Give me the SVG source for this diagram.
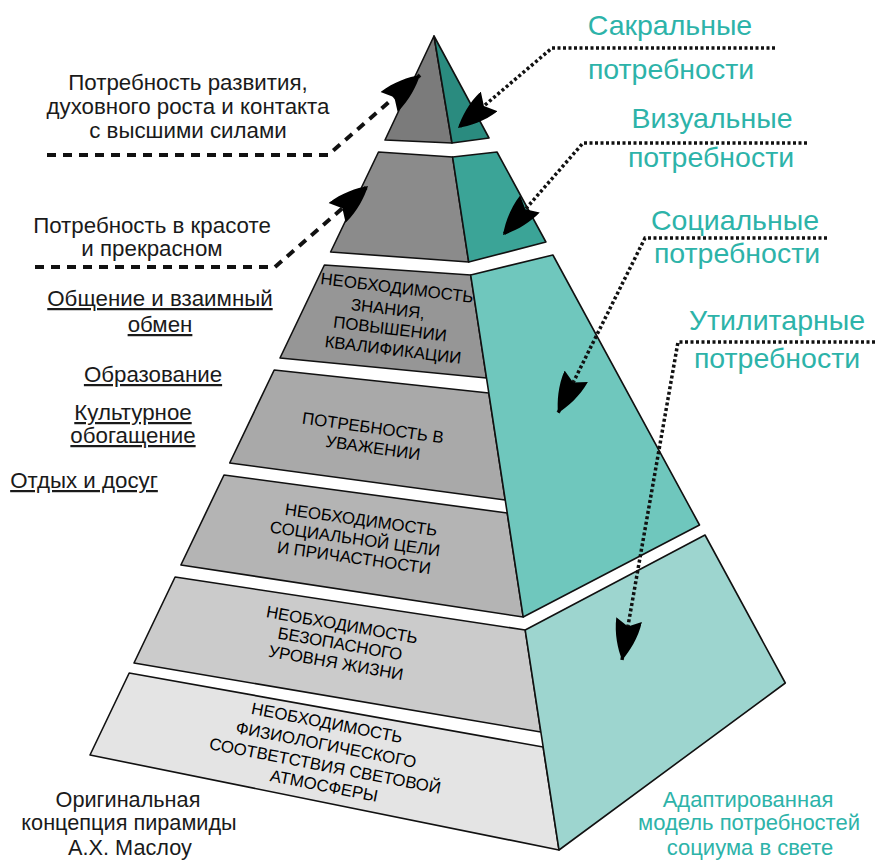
<svg xmlns="http://www.w3.org/2000/svg" width="876" height="860" viewBox="0 0 876 860">
<defs>
<style>
.face{stroke:#111;stroke-width:1.6;stroke-linejoin:round}
.lbl{font-family:"Liberation Sans",Arial,sans-serif;font-size:22.3px;fill:#1a1a1a;text-anchor:middle}
.lbl2{font-family:"Liberation Sans",Arial,sans-serif;font-size:21.7px;fill:#1a1a1a;text-anchor:middle}
.ul{text-decoration:underline}
.teal{font-family:"Liberation Sans",Arial,sans-serif;font-size:28.5px;fill:#2db3a9;text-anchor:middle}
.tealsm{font-family:"Liberation Sans",Arial,sans-serif;font-size:22px;fill:#2db3a9;text-anchor:middle}
.pt{font-family:"Liberation Sans",Arial,sans-serif;font-size:16.8px;fill:#000;text-anchor:middle;dominant-baseline:central}
.dash{fill:none;stroke:#111;stroke-width:4;stroke-dasharray:9 7}
.dot{fill:none;stroke:#111;stroke-width:3.5;stroke-dasharray:3 2.5}
</style>
<marker id="dart" markerUnits="userSpaceOnUse" viewBox="0 0 42 26" markerWidth="42" markerHeight="26" refX="42" refY="13" orient="auto">
<path d="M42,13 C32,7 18,1 1,0 L8,13 L1,26 C18,25 32,19 42,13 Z" fill="#000"/>
</marker>
</defs>
<rect width="876" height="860" fill="#fff"/>

<g id="layer1">
<polygon class="face" fill="#7b7b7b" points="434,36 385,140 452,143"/>
<polygon class="face" fill="#2a8b7f" points="434,36 452,143 489,138"/>
</g>
<g id="layer2">
<polygon class="face" fill="#8b8b8b" points="378.5,152 452.6,157 468.7,262 330.6,252"/>
<polygon class="face" fill="#3ba497" points="452.6,157 497,152 545.9,242 468.7,262"/>
</g>
<g id="layer3">
<polygon class="face" fill="#969696" points="324.4,265 470.7,275 486.5,378 280,358"/>
<text class="pt" x="397" y="288" transform="rotate(7 397 288)">НЕОБХОДИМОСТЬ</text>
<text class="pt" x="388" y="309" transform="rotate(7 388 309)">ЗНАНИЯ,</text>
<text class="pt" x="390" y="329" transform="rotate(7 390 329)">ПОВЫШЕНИИ</text>
<text class="pt" x="393" y="350" transform="rotate(7 393 350)">КВАЛИФИКАЦИИ</text>
</g>
<g id="layer4">
<polygon class="face" fill="#a9a9a9" points="274.2,370 488.8,393 505.2,500 229.7,463"/>
<text class="pt" x="373" y="428" transform="rotate(8 373 428)">ПОТРЕБНОСТЬ В</text>
<text class="pt" x="373" y="448" transform="rotate(8 373 448)">УВАЖЕНИИ</text>
</g>
<g id="layer5">
<polygon class="face" fill="#b4b4b4" points="224,475 507.2,513 523.2,617 180.9,565"/>
<text class="pt" x="361" y="520" transform="rotate(8 361 520)">НЕОБХОДИМОСТЬ</text>
<text class="pt" x="355" y="539" transform="rotate(8 355 539)">СОЦИАЛЬНОЙ ЦЕЛИ</text>
<text class="pt" x="354" y="558" transform="rotate(8 354 558)">И ПРИЧАСТНОСТИ</text>
</g>
<g id="layer6">
<polygon class="face" fill="#cbcbcb" points="175.1,577 525.2,630 540.8,732 134,663"/>
<text class="pt" x="342" y="625" transform="rotate(10 342 625)">НЕОБХОДИМОСТЬ</text>
<text class="pt" x="340" y="644" transform="rotate(10 340 644)">БЕЗОПАСНОГО</text>
<text class="pt" x="336" y="663" transform="rotate(10 336 663)">УРОВНЯ ЖИЗНИ</text>
</g>
<g id="layer7">
<polygon class="face" fill="#e4e4e4" points="129.2,673 543.1,747 559,850 90,755"/>
<text class="pt" x="327" y="723" transform="rotate(11 327 723)">НЕОБХОДИМОСТЬ</text>
<text class="pt" x="326" y="745" transform="rotate(11 326 745)">ФИЗИОЛОГИЧЕСКОГО</text>
<text class="pt" x="325" y="766" transform="rotate(11 325 766)">СООТВЕТСТВИЯ СВЕТОВОЙ</text>
<text class="pt" x="324" y="786" transform="rotate(11 324 786)">АТМОСФЕРЫ</text>
</g>
<g id="teal-upper">
<polygon class="face" fill="#6fc7bd" points="470.7,275 552.9,255 699.5,525 523.2,617"/>
</g>
<g id="teal-lower">
<polygon class="face" fill="#9dd5cf" points="525.2,630 705,535 785.3,683 559,850"/>
</g>

<g id="connectors">
<path class="dash" d="M47,155 H328 L420,75" marker-end="url(#dart)"/>
<path class="dash" d="M35,267 H275 L368,186" marker-end="url(#dart)"/>
<path class="dot" d="M775,48 H552 L458,128" marker-end="url(#dart)"/>
<path class="dot" d="M807,143 H583 L503,235" marker-end="url(#dart)"/>
<path class="dot" d="M827,238 H645 L558,413" marker-end="url(#dart)"/>
<path class="dot" d="M875,342 H678 L622,660" marker-end="url(#dart)"/>
</g>

<g id="label-spiritual">
<text class="lbl" x="188" y="90">Потребность развития,</text>
<text class="lbl" x="188" y="114">духовного роста и контакта</text>
<text class="lbl" x="188" y="138">с высшими силами</text>
</g>
<g id="label-beauty">
<text class="lbl" x="152" y="233">Потребность в красоте</text>
<text class="lbl" x="152" y="256">и прекрасном</text>
</g>
<g id="label-communication">
<text class="lbl ul" x="160" y="306">Общение и взаимный</text>
<text class="lbl ul" x="160" y="332">обмен</text>
</g>
<g id="label-education">
<text class="lbl ul" x="153" y="382">Образование</text>
</g>
<g id="label-culture">
<text class="lbl ul" x="133" y="420">Культурное</text>
<text class="lbl ul" x="133" y="443">обогащение</text>
</g>
<g id="label-leisure">
<text class="lbl ul" x="84" y="488">Отдых и досуг</text>
</g>
<g id="label-original">
<text class="lbl2" x="128" y="807">Оригинальная</text>
<text class="lbl2" x="129" y="830">концепция пирамиды</text>
<text class="lbl2" x="130" y="855">А.Х. Маслоу</text>
</g>
<g id="label-sacral">
<text class="teal" x="670" y="35">Сакральные</text>
<text class="teal" x="671" y="79">потребности</text>
</g>
<g id="label-visual">
<text class="teal" x="712" y="128">Визуальные</text>
<text class="teal" x="711" y="167">потребности</text>
</g>
<g id="label-social">
<text class="teal" x="735" y="230">Социальные</text>
<text class="teal" x="737" y="263">потребности</text>
</g>
<g id="label-utilitarian">
<text class="teal" x="777" y="330">Утилитарные</text>
<text class="teal" x="777" y="368">потребности</text>
</g>
<g id="label-adapted">
<text class="tealsm" x="748" y="807">Адаптированная</text>
<text class="tealsm" x="749" y="830">модель потребностей</text>
<text class="tealsm" x="750" y="855">социума в свете</text>
</g>
</svg>
